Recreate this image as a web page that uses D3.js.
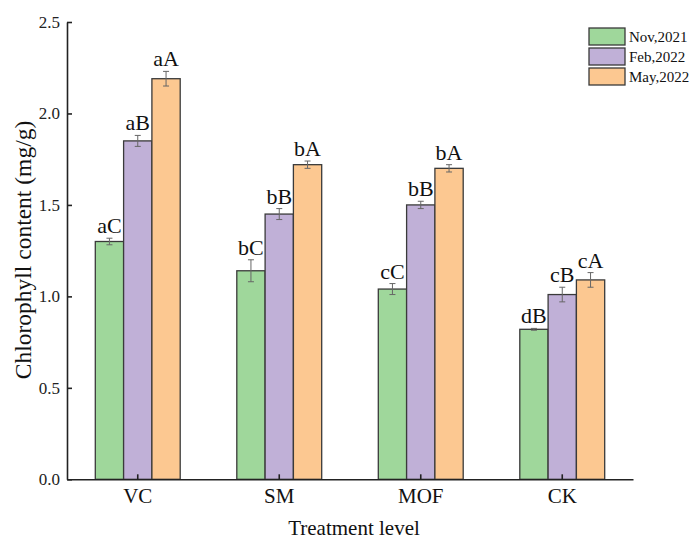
<!DOCTYPE html>
<html>
<head>
<meta charset="utf-8">
<script src="https://cdn.jsdelivr.net/npm/d3@7"></script>
<style>
  html, body { margin: 0; padding: 0; background: #fff; }
</style>
</head>
<body>
<svg id="chart" width="696" height="539" font-family="'Liberation Serif', 'Times New Roman', Times, serif"></svg>
<script>
// Chlorophyll content by treatment and sampling date
const categories = ["VC", "SM", "MOF", "CK"];
const seriesNames = ["Nov,2021", "Feb,2022", "May,2022"];
const nov2021 = [1.30, 1.14, 1.04, 0.82];
const feb2022 = [1.85, 1.45, 1.50, 1.01];
const may2022 = [2.19, 1.72, 1.70, 1.09];
const novErr = [0.018, 0.06, 0.03, 0.005];
const febErr = [0.03, 0.03, 0.02, 0.04];
const mayErr = [0.04, 0.02, 0.02, 0.04];
const novLetters = ["aC", "bC", "cC", "dB"];
const febLetters = ["aB", "bB", "bB", "cB"];
const mayLetters = ["aA", "bA", "bA", "cA"];
const yTicks = [0.0, 0.5, 1.0, 1.5, 2.0, 2.5];
const colors = ["#9fd79b", "#c0b0d7", "#fcc891"];

const values = [nov2021, feb2022, may2022];
const errors = [novErr, febErr, mayErr];
const letters = [novLetters, febLetters, mayLetters];

const FONT = "'Liberation Serif', 'Times New Roman', Times, serif";
const svg = d3.select("#chart");
const margin = { left: 67, right: 63, top: 22, bottom: 60 };
const W = 696, H = 539;
const x0 = margin.left, x1 = W - margin.right;
const yBottom = H - margin.bottom + 0.3, yTop = margin.top;

const x = d3.scaleBand().domain(categories).range([x0, x1]).padding(0);
const groupFrac = 0.6;
const xs = d3.scaleBand().domain(seriesNames)
  .range([0, x.bandwidth() * groupFrac]).padding(0);
const y = d3.scaleLinear().domain([0, 2.5]).range([yBottom, yTop]);

// bars, error bars and significance letters
seriesNames.forEach((s, si) => {
  const g = svg.append("g");
  categories.forEach((c, ci) => {
    const left = x(c) + x.bandwidth() * (1 - groupFrac) / 2 + xs(s);
    const v = values[si][ci];
    g.append("rect")
      .attr("x", left)
      .attr("y", y(v))
      .attr("width", xs.bandwidth())
      .attr("height", y(0) - y(v))
      .attr("fill", colors[si])
      .attr("stroke", "#3a3a3a")
      .attr("stroke-width", 1.3);
    const cx = left + xs.bandwidth() / 2;
    const e = errors[si][ci];
    const eb = g.append("g").attr("stroke", "#666").attr("stroke-width", 1);
    eb.append("line").attr("x1", cx).attr("x2", cx).attr("y1", y(v + e)).attr("y2", y(v - e));
    eb.append("line").attr("x1", cx - 3).attr("x2", cx + 3).attr("y1", y(v + e)).attr("y2", y(v + e));
    eb.append("line").attr("x1", cx - 3).attr("x2", cx + 3).attr("y1", y(v - e)).attr("y2", y(v - e));
    g.append("text")
      .attr("x", cx)
      .attr("y", y(v + e) - 5)
      .attr("text-anchor", "middle")
      .attr("font-family", FONT)
      .attr("font-size", 22)
      .attr("fill", "#111")
      .text(letters[si][ci]);
  });
});

// y axis with inward ticks
const yAxis = d3.axisLeft(y).tickValues(yTicks).tickFormat(d3.format(".1f"))
  .tickSizeInner(-5).tickSizeOuter(0).tickPadding(7);
const gy = svg.append("g").attr("transform", `translate(${x0},0)`).call(yAxis)
  .attr("font-family", FONT);
gy.select(".domain").attr("stroke", "#222").attr("stroke-width", 1.6);
gy.selectAll(".tick line").attr("stroke", "#222").attr("stroke-width", 1.6);
gy.selectAll(".tick text").attr("font-size", 17).attr("fill", "#222");

// x axis with inward ticks
const xAxis = d3.axisBottom(x).tickSizeInner(-5).tickSizeOuter(0).tickPadding(9);
const gx = svg.append("g").attr("transform", `translate(0,${yBottom})`).call(xAxis)
  .attr("font-family", FONT);
gx.select(".domain").attr("stroke", "#222").attr("stroke-width", 1.6);
gx.selectAll(".tick line").attr("stroke", "#222").attr("stroke-width", 1.6);
gx.selectAll(".tick text").attr("font-size", 21).attr("fill", "#111");

// axis titles
svg.append("text")
  .attr("transform", `translate(31,250) rotate(-90)`)
  .attr("text-anchor", "middle")
  .attr("font-family", FONT)
  .attr("font-size", 23.5)
  .attr("fill", "#111")
  .text("Chlorophyll content (mg/g)");
svg.append("text")
  .attr("x", 354)
  .attr("y", 535)
  .attr("text-anchor", "middle")
  .attr("font-family", FONT)
  .attr("font-size", 21)
  .attr("fill", "#111")
  .text("Treatment level");

// legend
const legend = svg.append("g").attr("transform", "translate(589,28)");
seriesNames.forEach((s, i) => {
  const row = legend.append("g").attr("transform", `translate(0,${i * 20})`);
  row.append("rect").attr("width", 36).attr("height", 17)
    .attr("fill", colors[i]).attr("stroke", "#3a3a3a").attr("stroke-width", 1.3);
  row.append("text").attr("x", 40).attr("y", 14)
    .attr("font-family", FONT)
    .attr("font-size", 15).attr("fill", "#111").text(s);
});
</script>
</body>
</html>
